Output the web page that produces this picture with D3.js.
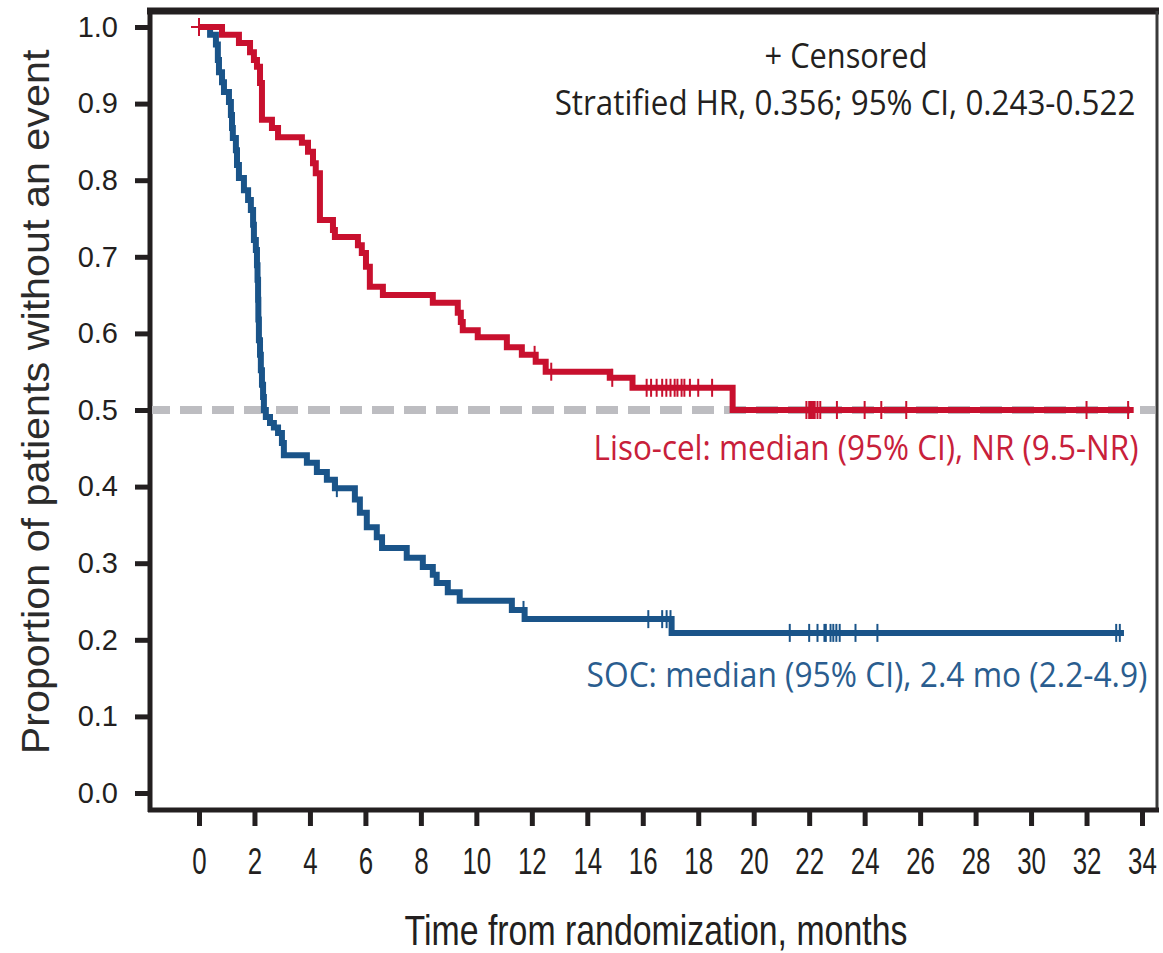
<!DOCTYPE html>
<html>
<head>
<meta charset="utf-8">
<script src="https://cdn.jsdelivr.net/npm/d3@7"></script>
<style>
  body { margin: 0; background: #fff; }
  svg { display: block; }
</style>
</head>
<body>
<svg id="chart"></svg>
<script>
// tick labels
const xTicks = [0, 2, 4, 6, 8, 10, 12, 14, 16, 18, 20, 22, 24, 26, 28, 30, 32, 34];
const yTicks = [0, 0.1, 0.2, 0.3, 0.4, 0.5, 0.6, 0.7, 0.8, 0.9, 1.0];

// Liso-cel: event times (months) and survival after each step
const lisoTimes = [0.83, 1.44, 1.84, 1.98, 2.09, 2.20, 2.27, 2.63, 2.85, 3.71, 3.93, 4.11, 4.21, 4.36,
    4.83, 4.90, 5.73, 5.87, 6.02, 6.16, 6.63, 8.43, 9.33, 9.44, 9.51, 10.05, 11.10, 11.64, 12.14,
    12.50, 14.81, 15.63, 19.24];
const lisoSurv = [0.990, 0.979, 0.967, 0.957, 0.948, 0.927, 0.879, 0.868, 0.856, 0.849, 0.837, 0.822, 0.809, 0.748,
    0.735, 0.726, 0.715, 0.705, 0.687, 0.661, 0.650, 0.640, 0.627, 0.615, 0.604, 0.595, 0.582, 0.572, 0.563,
    0.550, 0.542, 0.529, 0.500];
const lisoCensor = [0, 12.1, 12.7, 14.9, 16.14, 16.3, 16.5, 16.7, 16.85, 17.0, 17.15, 17.25, 17.4, 17.5, 17.7,
    18.0, 18.5, 21.9, 22.0, 22.05, 22.1, 22.15, 22.2, 22.3, 22.4, 23.0, 24.0, 24.6, 25.5, 32.0, 33.5];
const lisoEnd = 33.7;

// SOC
const socTimes = [0.40, 0.61, 0.68, 0.72, 0.83, 0.90, 1.08, 1.15, 1.19, 1.22, 1.33, 1.37, 1.44, 1.62, 1.77,
    1.87, 1.95, 1.98, 2.05, 2.09, 2.11, 2.13, 2.14, 2.16, 2.20, 2.23, 2.27, 2.31, 2.34, 2.41, 2.56, 2.70,
    2.85, 2.99, 3.06, 3.89, 4.25, 4.61, 4.90, 5.62, 5.80, 6.05, 6.41, 6.60, 7.49, 8.07, 8.43, 8.57, 8.97,
    9.40, 11.28, 11.74, 17.04];
const socSurv = [0.990, 0.977, 0.957, 0.941, 0.928, 0.915, 0.902, 0.885, 0.868, 0.855, 0.839, 0.820, 0.803, 0.787, 0.774,
    0.761, 0.742, 0.722, 0.709, 0.689, 0.670, 0.644, 0.618, 0.591, 0.572, 0.552, 0.533, 0.517, 0.500, 0.491, 0.483, 0.477,
    0.470, 0.457, 0.441, 0.431, 0.419, 0.409, 0.398, 0.383, 0.366, 0.347, 0.334, 0.320, 0.307, 0.295, 0.285, 0.274, 0.262,
    0.251, 0.239, 0.227, 0.209];
const socCensor = [4.97, 11.7, 16.2, 16.7, 16.86, 17.0, 21.3, 22.0, 22.3, 22.55, 22.6, 22.77, 22.87, 22.98, 23.1,
    23.67, 24.46, 33.07, 33.2];
const socEnd = 33.35;

const red = '#c8102e';
const blue = '#1a5489';

const W = 1163, H = 953;
const svg = d3.select('#chart').attr('width', W).attr('height', H);

const frame = { left: 150, right: 1157, top: 11, bottom: 810 };

const x = d3.scaleLinear().domain([0, 34]).range([199, 1142]);
const y = d3.scaleLinear().domain([0, 1]).range([793, 27]);

// frame around the plot
svg.append('line').attr('x1', frame.left - 3).attr('x2', frame.right + 2)
    .attr('y1', frame.top).attr('y2', frame.top)
    .attr('stroke', '#231f20').attr('stroke-width', 7);
svg.append('line').attr('x1', frame.right).attr('x2', frame.right)
    .attr('y1', frame.top).attr('y2', frame.bottom)
    .attr('stroke', '#3a3a3a').attr('stroke-width', 3);
svg.append('line').attr('x1', frame.left).attr('x2', frame.left)
    .attr('y1', frame.top - 3).attr('y2', frame.bottom + 2)
    .attr('stroke', '#231f20').attr('stroke-width', 5);
svg.append('line').attr('x1', frame.left - 2).attr('x2', frame.right + 2)
    .attr('y1', frame.bottom).attr('y2', frame.bottom)
    .attr('stroke', '#231f20').attr('stroke-width', 5);

// y axis
const yAxis = svg.append('g')
    .attr('transform', `translate(${frame.left},0)`)
    .call(d3.axisLeft(y).tickValues(yTicks).tickFormat(d3.format('.1f')).tickSize(15).tickPadding(17));
yAxis.select('.domain').remove();
yAxis.selectAll('.tick line').attr('stroke', '#231f20').attr('stroke-width', 5);
yAxis.selectAll('.tick text')
    .attr('fill', '#231f20')
    .style('font-family', '"Liberation Sans", Arial, sans-serif')
    .style('font-size', '29px');

// x axis
const xAxis = svg.append('g')
    .attr('transform', `translate(0,${frame.bottom})`)
    .call(d3.axisBottom(x).tickValues(xTicks).tickSize(16).tickPadding(22));
xAxis.select('.domain').remove();
xAxis.selectAll('.tick line').attr('stroke', '#231f20').attr('stroke-width', 5);
xAxis.selectAll('.tick text')
    .attr('fill', '#231f20')
    .attr('transform', 'scale(0.7,1)')
    .style('font-family', '"Liberation Sans", Arial, sans-serif')
    .style('font-size', '37px');

// text squeezed horizontally to a given width (condensed look)
function squeezed(txt, cx, by, len, opts) {
    const g = svg.append('g');
    const t = g.append('text')
        .attr('text-anchor', 'middle')
        .attr('fill', opts.color)
        .style('font-family', opts.font)
        .style('font-size', opts.size + 'px')
        .text(txt);
    const k = len / t.node().getComputedTextLength();
    g.attr('transform', `translate(${cx},${by}) rotate(${opts.rotate || 0}) scale(${k},1)`);
    return t;
}

const axisFont = '"Liberation Sans", Arial, sans-serif';
squeezed('Time from randomization, months', 656, 945, 503, { color: '#231f20', font: axisFont, size: 43 });
squeezed('Proportion of patients without an event', 49, 402, 705, { color: '#2b2b2b', font: axisFont, size: 39, rotate: -90 });

// median reference line
svg.append('line')
    .attr('x1', frame.left + 2).attr('x2', frame.right - 2)
    .attr('y1', y(0.5)).attr('y2', y(0.5))
    .attr('stroke', '#bdbdc1').attr('stroke-width', 8)
    .attr('stroke-dasharray', '22,10').attr('stroke-dashoffset', 4);

// KM step curves
const line = d3.line().x(d => x(d[0])).y(d => y(d[1])).curve(d3.curveStepAfter);

function stepPoints(times, surv, end) {
    const pts = [[0, 1]];
    times.forEach((t, i) => pts.push([t, surv[i]]));
    pts.push([end, surv[surv.length - 1]]);
    return pts;
}

function survAt(times, surv, t) {
    let s = 1;
    times.forEach((tt, i) => { if (tt <= t) s = surv[i]; });
    return s;
}

function drawCurve(times, surv, censor, end, color) {
    svg.append('path')
        .datum(stepPoints(times, surv, end))
        .attr('d', line)
        .attr('fill', 'none')
        .attr('stroke', color)
        .attr('stroke-width', 6);

    svg.append('g').selectAll('line')
        .data(censor)
        .enter().append('line')
        .attr('x1', d => x(d)).attr('x2', d => x(d))
        .attr('y1', d => y(survAt(times, surv, d)) - 9)
        .attr('y2', d => y(survAt(times, surv, d)) + 9)
        .attr('stroke', color)
        .attr('stroke-width', 2);
}

drawCurve(socTimes, socSurv, socCensor, socEnd, blue);
drawCurve(lisoTimes, lisoSurv, lisoCensor, lisoEnd, red);

// start "+" for liso-cel
svg.append('line')
    .attr('x1', x(0) - 8).attr('x2', x(0))
    .attr('y1', y(1)).attr('y2', y(1))
    .attr('stroke', red).attr('stroke-width', 2);

// annotations
const noteFont = '"Open Sans", "Noto Sans", sans-serif';
const note = (txt, cx, by, len, color) => squeezed(txt, cx, by, len, { color: color, font: noteFont, size: 34 });
note('+ Censored', 846, 68, 163, '#231f20');
note('Stratified HR, 0.356; 95% CI, 0.243-0.522', 845, 115, 581, '#231f20');
note('Liso-cel: median (95% CI), NR (9.5-NR)', 866, 460, 545, '#c8203a');
note('SOC: median (95% CI), 2.4 mo (2.2-4.9)', 867, 687, 561, '#2a5d8f');
</script>
</body>
</html>
